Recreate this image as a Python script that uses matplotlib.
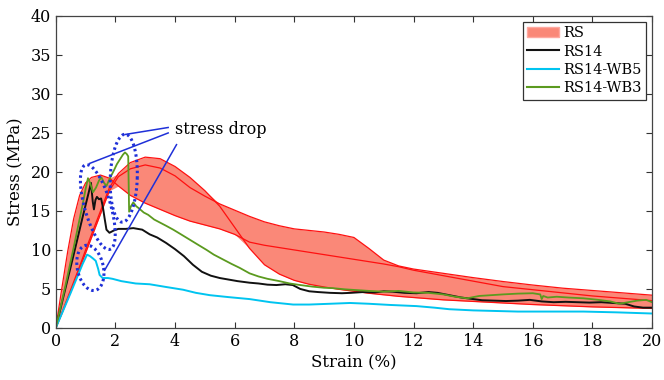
import numpy as np
import matplotlib
matplotlib.use("Agg")
import matplotlib.pyplot as plt
from matplotlib.patches import Patch
from matplotlib.lines import Line2D

plt.rcParams['font.family'] = ['DejaVu Serif']

# RS specimens: three curves on a common strain grid
rs_x = [0, 0.2, 0.4, 0.6, 0.8, 1.0, 1.2, 1.5, 1.8, 2.1, 2.5, 3.0, 3.5, 4.0, 4.5,
        5.0, 5.5, 6.0, 6.5, 7.0, 7.5, 8.0, 8.5, 9.0, 9.5, 10.0, 10.5, 11.0, 11.5,
        12, 13, 14, 15, 16, 17, 18, 19, 20]
rs_a = [0, 5.0, 9.8, 14.0, 17.0, 18.6, 19.3, 19.6, 19.2, 18.2, 17.0, 16.0, 15.2,
        14.4, 13.7, 13.2, 12.7, 12.0, 11.0, 10.6, 10.3, 10.0, 9.7, 9.4, 9.1, 8.8,
        8.5, 8.2, 7.85, 7.4, 6.7, 6.0, 5.3, 4.9, 4.5, 4.1, 3.8, 3.5]
rs_b = [0, 1.9, 3.9, 5.9, 7.9, 10.0, 12.0, 15.0, 18.0, 19.8, 21.2, 21.9, 21.7,
        20.7, 19.3, 17.6, 15.6, 12.9, 10.2, 8.1, 6.9, 6.1, 5.6, 5.25, 4.95, 4.7,
        4.45, 4.25, 4.05, 3.9, 3.6, 3.4, 3.2, 3.0, 2.85, 2.7, 2.6, 2.5]
rs_c = [0, 1.8, 3.7, 5.6, 7.6, 9.6, 11.6, 14.6, 17.6, 19.4, 20.4, 20.9, 20.5,
        19.5, 18.0, 16.9, 15.9, 15.1, 14.3, 13.6, 13.1, 12.7, 12.5, 12.3, 12.0,
        11.6, 10.2, 8.7, 7.95, 7.55, 7.0, 6.45, 5.95, 5.5, 5.1, 4.8, 4.5, 4.2]

# RS14
rs14_x = [0, 0.3, 0.6, 0.9, 1.1, 1.18, 1.24, 1.28, 1.33, 1.38, 1.45, 1.52, 1.58,
          1.64, 1.7, 1.8, 1.95, 2.1, 2.35, 2.6, 2.9, 3.15, 3.4, 3.7, 4.0, 4.3, 4.6,
          4.9, 5.2, 5.5, 5.8, 6.1, 6.5, 6.8, 7.1, 7.4, 7.7, 7.95, 8.2, 8.5, 8.8,
          9.2, 9.6, 9.9, 10.3, 10.7, 11.0, 11.3, 11.7, 12.1, 12.5, 12.8, 13.2,
          13.6, 14.0, 14.3, 14.7, 15.1, 15.5, 15.9, 16.3, 16.7, 17.1, 17.5, 17.9,
          18.3, 18.7, 19.1, 19.4, 19.7, 20]
rs14_y = [0, 4.7, 9.4, 14.2, 17.3, 18.6, 16.2, 15.2, 16.4, 16.8, 16.5, 16.6, 15.5,
          14.0, 12.6, 12.2, 12.5, 12.7, 12.7, 12.8, 12.6, 12.0, 11.6, 10.9, 10.1,
          9.2, 8.1, 7.2, 6.7, 6.4, 6.2, 6.0, 5.8, 5.7, 5.55, 5.5, 5.6, 5.5, 5.0,
          4.7, 4.6, 4.5, 4.45, 4.5, 4.6, 4.55, 4.7, 4.65, 4.5, 4.45, 4.6, 4.5, 4.2,
          3.9, 3.7, 3.55, 3.5, 3.45, 3.5, 3.6, 3.4, 3.3, 3.35, 3.3, 3.25, 3.3,
          3.2, 3.1, 2.75, 2.6, 2.6]

# RS14-WB5
wb5_x = [0, 0.5, 0.9, 1.05, 1.15, 1.25, 1.34, 1.42, 1.47, 1.57, 1.75, 1.9, 2.2,
         2.68, 3.15, 3.7, 4.27, 4.7, 5.17, 5.8, 6.5, 7.2, 7.96, 8.5, 9.2, 9.87,
         10.5, 11.2, 12.1, 12.7, 13.2, 14.0, 15.5, 16.5, 17.7, 18.8, 20]
wb5_y = [0, 4.5, 8.2, 9.4, 9.2, 8.9, 8.6, 7.6, 6.8, 6.4, 6.4, 6.3, 6.0, 5.7, 5.6,
         5.25, 4.9, 4.5, 4.2, 3.95, 3.7, 3.3, 3.0, 3.0, 3.1, 3.2, 3.1, 2.95, 2.8,
         2.6, 2.4, 2.25, 2.1, 2.1, 2.1, 2.0, 1.85]

# RS14-WB3
wb3_x = [0, 0.3, 0.6, 0.9, 1.0, 1.08, 1.15, 1.25, 1.35, 1.45, 1.53, 1.62, 1.7,
         1.78, 1.87, 1.95, 2.05, 2.15, 2.25, 2.32, 2.38, 2.43, 2.46, 2.52, 2.6,
         2.7, 2.8, 2.95, 3.1, 3.3, 3.5, 3.7, 3.94, 4.2, 4.5, 4.8, 5.06, 5.3, 5.6,
         5.9, 6.17, 6.5, 6.8, 7.1, 7.5, 7.85, 8.2, 8.6, 9.0, 9.3, 9.7, 10.1, 10.5,
         11.0, 11.5, 12.0, 12.5, 13.0, 13.4, 13.8, 14.2, 14.6, 15.0, 15.5, 16.0,
         16.25, 16.3, 16.35, 16.5, 16.8, 17.2, 17.7, 18.2, 18.6, 18.9, 19.2, 19.5,
         19.8, 20]
wb3_y = [0, 5.0, 10.3, 15.8, 17.8, 19.2, 18.6, 17.4, 18.0, 18.9, 19.3, 18.6, 18.2,
         18.9, 19.6, 20.2, 21.0, 21.6, 22.2, 22.5, 22.3, 22.0, 14.9, 15.6, 16.1,
         15.6, 15.3, 14.8, 14.5, 13.9, 13.5, 13.1, 12.6, 12.0, 11.3, 10.6, 10.0,
         9.4, 8.8, 8.2, 7.7, 7.0, 6.6, 6.3, 6.0, 5.7, 5.5, 5.3, 5.15, 5.1, 4.95,
         4.85, 4.75, 4.65, 4.75, 4.55, 4.5, 4.3, 4.0, 3.8, 4.1, 4.2, 4.3, 4.4,
         4.45, 4.3, 3.7, 4.1, 3.9, 4.0, 3.9, 3.8, 3.6, 3.4, 3.1, 3.3, 3.5, 3.6, 3.3]

red = '#FF1010'
band = '#FA8878'
blue = '#1F30D8'

fig = plt.figure(figsize=(6.64, 3.8), dpi=100)
ax = fig.add_axes([0.084, 0.137, 0.898, 0.821])

lo = np.min([rs_a, rs_b, rs_c], axis=0)
hi = np.max([rs_a, rs_b, rs_c], axis=0)
ax.fill_between(rs_x, lo, hi, color=band, lw=0)
for c in (rs_a, rs_b, rs_c):
    ax.plot(rs_x, c, color=red, lw=0.9)

ax.plot(rs14_x, rs14_y, color='#111111', lw=1.4)
ax.plot(wb5_x, wb5_y, color='#00C4F0', lw=1.4)
ax.plot(wb3_x, wb3_y, color='#5B9A1F', lw=1.3)

# dotted ellipses marking the stress drops (sizes in pixels)
sx, sy = 29.8, 7.8
def ring(cx, cy, w, h, ang):
    t = np.linspace(0, 2 * np.pi, 200)
    a = np.deg2rad(ang)
    px = w / 2 * np.cos(t)
    py = h / 2 * np.sin(t)
    rx = px * np.cos(a) - py * np.sin(a)
    ry = px * np.sin(a) + py * np.cos(a)
    ax.plot(cx + rx / sx, cy + ry / sy, color=blue, lw=2.2, ls=(0, (0.8, 1.0)))

ring(1.41, 15.5, 26, 88, 16)
ring(1.16, 7.7, 26, 46, 12)
ring(2.28, 19.2, 27, 88, -2)

ax.plot([3.77, 2.32], [25.7, 24.8], color=blue, lw=1.1)
ax.plot([3.77, 1.14], [25.0, 21.1], color=blue, lw=1.1)
ax.plot([4.05, 1.64], [23.5, 7.4], color=blue, lw=1.1)
ax.text(4.0, 25.4, 'stress drop', fontsize=11.5, va='center', ha='left')

ax.set_xlim(0, 20)
ax.set_ylim(0, 40)
ax.set_xticks(range(0, 21, 2))
ax.set_yticks(range(0, 41, 5))
ax.tick_params(direction='in', top=True, right=True, length=4, labelsize=11.5,
               color='#333333')
for s in ax.spines.values():
    s.set_color('#444444')
    s.set_linewidth(0.9)
ax.set_xlabel('Strain (%)', fontsize=12, labelpad=3)
ax.set_ylabel('Stress (MPa)', fontsize=12, labelpad=4)

handles = [Patch(facecolor=band, edgecolor='#FFA8A0', lw=1),
           Line2D([], [], color='#111111', lw=1.5),
           Line2D([], [], color='#00C4F0', lw=1.5),
           Line2D([], [], color='#5B9A1F', lw=1.5)]
leg = ax.legend(handles, ['RS', 'RS14', 'RS14-WB5', 'RS14-WB3'], loc='upper right',
                fontsize=10.5, fancybox=False, edgecolor='#333333', framealpha=1,
                borderaxespad=0.4, handlelength=2.2, handletextpad=0.3,
                labelspacing=0.3, borderpad=0.3)
leg.get_frame().set_linewidth(0.9)

fig.savefig('out.png', dpi=100)
